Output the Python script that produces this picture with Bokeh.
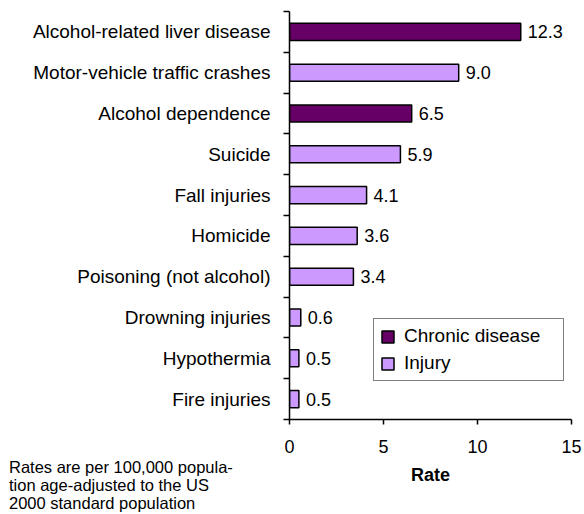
from bokeh.plotting import figure
from bokeh.models import ColumnDataSource, FixedTicker, Legend, LegendItem, Div
from bokeh.layouts import column
from bokeh.embed import file_html
from bokeh.resources import INLINE
from bokeh.core.properties import value

categories = ["Alcohol-related liver disease", "Motor-vehicle traffic crashes",
              "Alcohol dependence", "Suicide", "Fall injuries", "Homicide",
              "Poisoning (not alcohol)", "Drowning injuries", "Hypothermia",
              "Fire injuries"]
rates = [12.3, 9.0, 6.5, 5.9, 4.1, 3.6, 3.4, 0.6, 0.5, 0.5]
kinds = ["Chronic disease", "Injury", "Chronic disease", "Injury", "Injury",
         "Injury", "Injury", "Injury", "Injury", "Injury"]
x_ticks = [0, 5, 10, 15]
footnote = ["Rates are per 100,000 popula-",
            "tion age-adjusted to the US",
            "2000 standard population"]

colors = {"Chronic disease": "#660066", "Injury": "#cc99ff"}
FONT = "Liberation Sans"

n = len(categories)
ypos = [n - 1 - i for i in range(n)]

src = ColumnDataSource(dict(
    y=ypos, rate=rates, kind=kinds,
    color=[colors[k] for k in kinds],
    lab=["%.1f" % r for r in rates],
))

p = figure(width=584, height=514, output_backend="svg", toolbar_location=None,
           x_range=(0, 15), y_range=(-0.5, n - 0.5),
           min_border_left=289, min_border_right=13, min_border_top=11,
           min_border_bottom=95)
p.outline_line_color = None
p.xgrid.visible = False
p.ygrid.visible = False
p.background_fill_color = "white"
p.border_fill_color = None

p.hbar(y="y", right="rate", left=0, height=0.42, source=src,
       fill_color="color", line_color="black", line_width=1.5)

p.text(x="rate", y="y", text="lab", source=src, x_offset=7,
       text_baseline="middle", text_align="left",
       text_font=value(FONT), text_font_size="18px", text_color="black")

# y axis
yax = p.yaxis[0]
yax.ticker = FixedTicker(ticks=ypos, minor_ticks=[i - 0.5 for i in range(n + 1)])
yax.major_label_overrides = {ypos[i]: categories[i] for i in range(n)}
yax.major_tick_line_color = None
yax.major_tick_out = 0
yax.major_tick_in = 0
yax.minor_tick_out = 6
yax.minor_tick_in = 0
yax.minor_tick_line_color = "black"
yax.minor_tick_line_width = 1.5
yax.axis_line_color = "black"
yax.axis_line_width = 1.5
yax.major_label_standoff = 13
yax.major_label_text_font = FONT
yax.major_label_text_font_size = "19px"
yax.major_label_text_color = "black"

# x axis
xax = p.xaxis[0]
xax.ticker = FixedTicker(ticks=x_ticks, minor_ticks=[])
xax.major_tick_out = 5
xax.major_tick_in = 0
xax.major_tick_line_width = 1.5
xax.major_tick_line_color = "black"
xax.axis_line_width = 1.5
xax.axis_line_color = "black"
xax.major_label_standoff = 15
xax.major_label_text_font = FONT
xax.major_label_text_font_size = "18px"
xax.major_label_text_color = "black"
xax.axis_label = "Rate"
xax.axis_label_text_font = FONT
xax.axis_label_text_font_size = "18px"
xax.axis_label_text_font_style = "bold"
xax.axis_label_text_color = "black"
xax.axis_label_standoff = 9

# legend
dummy_c = p.quad(left=[-10], right=[-9], bottom=[-10], top=[-9],
                 fill_color=colors["Chronic disease"], line_color="black",
                 line_width=1.5)
dummy_i = p.quad(left=[-10], right=[-9], bottom=[-10], top=[-9],
                 fill_color=colors["Injury"], line_color="black",
                 line_width=1.5)
legend = Legend(items=[LegendItem(label="Chronic disease", renderers=[dummy_c]),
                       LegendItem(label="Injury", renderers=[dummy_i])],
                location=(84, 38), orientation="vertical")
legend.border_line_color = "black"
legend.border_line_width = 1.5
legend.background_fill_alpha = 1
legend.padding = 6
legend.spacing = 5
legend.glyph_width = 15
legend.glyph_height = 15
legend.label_height = 20
legend.label_width = 153
legend.label_standoff = 9
legend.margin = 0
legend.label_text_font = FONT
legend.label_text_font_size = "19px"
legend.label_text_color = "black"
legend.label_text_baseline = "middle"
p.add_layout(legend, "center")

# footnote (HTML text overlapping the figure's lower-left border area)
note = Div(text="<br>".join(footnote), width=260, height=56,
           margin=(-56, 0, 0, 9),
           styles={"font-family": FONT, "font-size": "16.5px",
                   "line-height": "18px", "color": "black",
                   "position": "relative", "z-index": "2"})

layout = column(p, note, spacing=0)

open("out.html", "w").write(file_html(layout, INLINE))
